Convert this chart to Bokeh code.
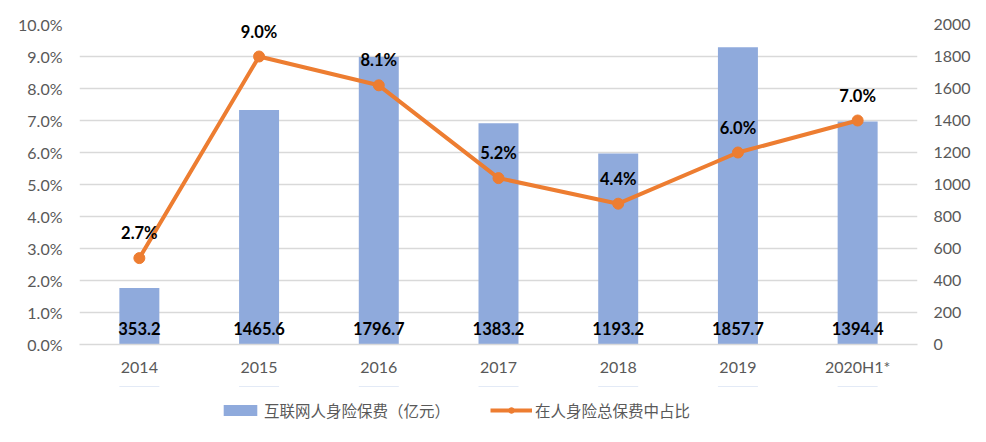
from bokeh.plotting import figure
from bokeh.layouts import column
from bokeh.models import (Range1d, LinearAxis, FixedTicker, Legend, LegendItem,
                          ColumnDataSource, LabelSet, FactorRange)
from bokeh.core.properties import value
from bokeh.embed import file_html
from bokeh.resources import INLINE

# ---- data ----
categories = ["2014", "2015", "2016", "2017", "2018", "2019", "2020H1*"]
premiums = [353.2, 1465.6, 1796.7, 1383.2, 1193.2, 1857.7, 1394.4]   # 亿元 (right axis)
share_pct = [2.7, 9.0, 8.1, 5.2, 4.4, 6.0, 7.0]                      # % (left axis)
left_ticks = [0, 1, 2, 3, 4, 5, 6, 7, 8, 9, 10]
left_tick_labels = ["0.0%", "1.0%", "2.0%", "3.0%", "4.0%", "5.0%",
                    "6.0%", "7.0%", "8.0%", "9.0%", "10.0%"]
right_ticks = [0, 200, 400, 600, 800, 1000, 1200, 1400, 1600, 1800, 2000]
series_names = ["互联网人身险保费（亿元）", "在人身险总保费中占比"]

BAR_COLOR = "#8FAADC"
LINE_COLOR = "#ED7D31"
GRID_COLOR = "#D9D9D9"
TEXT_COLOR = "#595959"
NUM_FONT = "Lato"
CJK_FONT = "Noto Sans CJK SC"

src = ColumnDataSource(dict(
    cat=categories,
    prem=premiums,
    share=share_pct,
    prem_lbl=[f"{v:.1f}" for v in premiums],
    share_lbl=[f"{v:.1f}%" for v in share_pct],
    base=[0] * len(categories),
))

p = figure(width=980, height=386, x_range=FactorRange(*categories),
           y_range=Range1d(left_ticks[0], left_ticks[-1]),
           output_backend="svg", toolbar_location=None,
           min_border_left=79, min_border_right=63,
           min_border_top=24, min_border_bottom=42)
p.extra_y_ranges = {"right": Range1d(right_ticks[0], right_ticks[-1])}
p.outline_line_color = None
p.background_fill_color = "white"
p.border_fill_color = "white"

# axes
p.yaxis.ticker = FixedTicker(ticks=left_ticks)
p.yaxis.major_label_overrides = {t: l for t, l in zip(left_ticks, left_tick_labels)}
ya = p.yaxis[0]
ya.axis_line_color = None
ya.major_tick_line_color = None
ya.minor_tick_line_color = None
ya.major_tick_out = 0
ya.major_label_standoff = 17
ya.major_label_text_font = NUM_FONT
ya.major_label_text_font_size = "16px"
ya.major_label_text_color = TEXT_COLOR

raxis = LinearAxis(y_range_name="right", ticker=FixedTicker(ticks=right_ticks))
raxis.axis_line_color = None
raxis.major_tick_line_color = None
raxis.minor_tick_line_color = None
raxis.major_tick_out = 0
raxis.major_label_standoff = 16
raxis.major_label_text_font = NUM_FONT
raxis.major_label_text_font_size = "16px"
raxis.major_label_text_color = TEXT_COLOR
p.add_layout(raxis, "right")

xa = p.xaxis[0]
xa.axis_line_color = GRID_COLOR
xa.axis_line_width = 1.5
xa.major_tick_line_color = None
xa.minor_tick_line_color = None
xa.major_tick_out = 0
xa.major_label_standoff = 12
xa.major_label_text_font = NUM_FONT
xa.major_label_text_font_size = "16px"
xa.major_label_text_color = TEXT_COLOR

p.xgrid.grid_line_color = None
p.ygrid.grid_line_color = GRID_COLOR
p.ygrid.grid_line_width = 1.5

# glyphs
bars = p.vbar(x="cat", top="prem", width=0.334, source=src, y_range_name="right",
              fill_color=BAR_COLOR, line_color=None)
line = p.line(x="cat", y="share", source=src, line_color=LINE_COLOR, line_width=4)
dots = p.scatter(x="cat", y="share", source=src, size=11, fill_color=LINE_COLOR,
                 line_color=LINE_COLOR)

bar_labels = LabelSet(x="cat", y="base", text="prem_lbl", source=src, y_range_name="right",
                      y_offset=16, text_align="center", text_baseline="middle",
                      text_font=value(NUM_FONT), text_font_size=value("16.5px"),
                      text_font_style=value("bold"), text_color="black")
share_labels = LabelSet(x="cat", y="share", text="share_lbl", source=src,
                        y_offset=25, text_align="center", text_baseline="middle",
                        text_font=value(NUM_FONT), text_font_size=value("16.5px"),
                        text_font_style=value("bold"), text_color="black")
p.add_layout(bar_labels)
p.add_layout(share_labels)

# ---- legend strip: a figure below the chart; its series keys use the same data,
# kept outside its visible range so only the legend shows ----
lg = figure(width=980, height=54, x_range=FactorRange(*categories), y_range=Range1d(-2, -1),
            output_backend="svg", toolbar_location=None,
            min_border_left=0, min_border_right=0, min_border_top=0, min_border_bottom=0)
lg.axis.visible = False
lg.grid.visible = False
lg.outline_line_color = None
lg.background_fill_color = "white"
lg.border_fill_color = "white"
key_bar = lg.vbar(x="cat", top="prem", width=0.334, source=src,
                  fill_color=BAR_COLOR, line_color=None)
key_line = lg.line(x="cat", y="share", source=src, line_color=LINE_COLOR, line_width=4)
key_dot = lg.scatter(x="cat", y="share", source=src, size=11, fill_color=LINE_COLOR,
                     line_color=LINE_COLOR)

legend = Legend(items=[LegendItem(label=series_names[0], renderers=[key_bar]),
                       LegendItem(label=series_names[1], renderers=[key_line, key_dot])],
                orientation="horizontal", location=(140, 19),
                glyph_width=42, glyph_height=14, label_standoff=3, spacing=0,
                label_width=226, padding=0, margin=0, label_height=20,
                label_text_font=CJK_FONT, label_text_font_size="15.5px",
                label_text_color=TEXT_COLOR,
                background_fill_alpha=0, border_line_color=None)
lg.add_layout(legend, "center")

layout = column(p, lg, spacing=0)
open("out.html", "w").write(file_html(layout, INLINE))
